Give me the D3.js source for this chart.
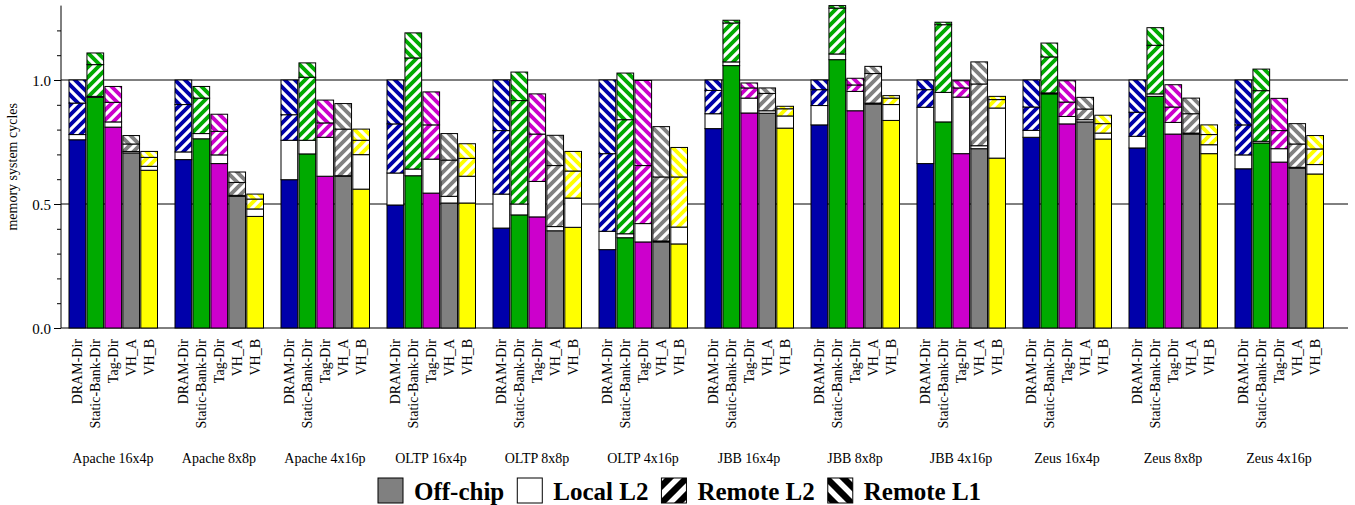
<!DOCTYPE html>
<html>
<head>
<meta charset="utf-8">
<script src="https://cdn.jsdelivr.net/npm/d3@7"></script>
<style>
  body { margin: 0; background: #fff; }
  text { font-family: "Liberation Serif", "Times New Roman", serif; }
</style>
</head>
<body>
<div class="canvas"></div>
<script>
// Data

const groups = ["Apache 16x4p", "Apache 8x8p", "Apache 4x16p", "OLTP 16x4p", "OLTP 8x8p", "OLTP 4x16p",
                "JBB 16x4p", "JBB 8x8p", "JBB 4x16p", "Zeus 16x4p", "Zeus 8x8p", "Zeus 4x16p"];
const protocols = ["DRAM-Dir", "Static-Bank-Dir", "Tag-Dir", "VH_A", "VH_B"];
const components = ["Off-chip", "Local L2", "Remote L2", "Remote L1"];
const protoColors = ["#0000aa", "#00aa00", "#cc00cc", "#808080", "#ffff00"];

// one row per group, one value per protocol
const offChip = [
  [0.759, 0.930, 0.810, 0.706, 0.636],
  [0.679, 0.763, 0.663, 0.531, 0.450],
  [0.598, 0.702, 0.612, 0.612, 0.560],
  [0.496, 0.614, 0.544, 0.504, 0.504],
  [0.403, 0.456, 0.448, 0.392, 0.406],
  [0.316, 0.364, 0.347, 0.347, 0.339],
  [0.804, 1.058, 0.867, 0.866, 0.806],
  [0.819, 1.082, 0.876, 0.903, 0.837],
  [0.663, 0.831, 0.703, 0.723, 0.685],
  [0.769, 0.944, 0.823, 0.831, 0.762],
  [0.726, 0.934, 0.782, 0.782, 0.703],
  [0.642, 0.746, 0.669, 0.645, 0.621]
];
const localL2 = [
  [0.021, 0.004, 0.021, 0.006, 0.016],
  [0.031, 0.021, 0.035, 0.004, 0.030],
  [0.159, 0.055, 0.157, 0.002, 0.139],
  [0.129, 0.027, 0.137, 0.027, 0.108],
  [0.137, 0.044, 0.143, 0.017, 0.118],
  [0.074, 0.016, 0.074, 0.004, 0.068],
  [0.060, 0.015, 0.060, 0.010, 0.049],
  [0.078, 0.023, 0.078, 0.004, 0.064],
  [0.227, 0.119, 0.228, 0.012, 0.202],
  [0.028, 0.004, 0.030, 0.009, 0.024],
  [0.047, 0.010, 0.047, 0.004, 0.036],
  [0.056, 0.007, 0.054, 0.003, 0.038]
];
const remoteL2 = [
  [0.127, 0.128, 0.079, 0.030, 0.036],
  [0.191, 0.143, 0.095, 0.052, 0.040],
  [0.103, 0.254, 0.058, 0.188, 0.058],
  [0.198, 0.448, 0.138, 0.146, 0.072],
  [0.256, 0.417, 0.191, 0.246, 0.109],
  [0.313, 0.460, 0.234, 0.258, 0.202],
  [0.094, 0.157, 0.041, 0.070, 0.029],
  [0.064, 0.185, 0.026, 0.119, 0.026],
  [0.071, 0.273, 0.037, 0.249, 0.034],
  [0.094, 0.145, 0.058, 0.043, 0.038],
  [0.097, 0.196, 0.062, 0.078, 0.041],
  [0.121, 0.204, 0.073, 0.094, 0.063]
];
const remoteL1 = [
  [0.093, 0.047, 0.064, 0.034, 0.024],
  [0.099, 0.047, 0.069, 0.042, 0.020],
  [0.140, 0.058, 0.092, 0.103, 0.045],
  [0.177, 0.101, 0.133, 0.107, 0.059],
  [0.204, 0.115, 0.162, 0.122, 0.079],
  [0.297, 0.188, 0.343, 0.203, 0.119],
  [0.042, 0.011, 0.020, 0.022, 0.010],
  [0.039, 0.010, 0.027, 0.029, 0.010],
  [0.039, 0.010, 0.029, 0.089, 0.013],
  [0.109, 0.056, 0.086, 0.047, 0.034],
  [0.130, 0.071, 0.090, 0.063, 0.039],
  [0.181, 0.087, 0.130, 0.082, 0.054]
];

const yLabelTicks = [0, 0.5, 1.0];
const yGridLines = [0.5, 1.0];

// Layout

const W = 1355, H = 505;
const svg = d3.select(".canvas").append("svg")
    .attr("width", W)
    .attr("height", H);

const y = d3.scaleLinear().domain([0, 1.3]).range([328, 5.6]);
const x0 = d3.scaleBand().domain(groups).range([69, 69 + 106 * groups.length]);
const x1 = d3.scaleBand().domain(protocols).range([0, 88.5]).paddingInner(0.07);

// hatch patterns
const defs = svg.append("defs");
function hatch(id, bg, dir, size, sw) {
  const p = defs.append("pattern")
      .attr("id", id)
      .attr("patternUnits", "userSpaceOnUse")
      .attr("width", size).attr("height", size);
  p.append("rect").attr("width", size).attr("height", size).attr("fill", bg);
  const s = size;
  const d = dir === "/"
    ? `M${-s/4},${s/4} L${s/4},${-s/4} M0,${s} L${s},0 M${3*s/4},${5*s/4} L${5*s/4},${3*s/4}`
    : `M${-s/4},${3*s/4} L${s/4},${5*s/4} M0,0 L${s},${s} M${3*s/4},${-s/4} L${5*s/4},${s/4}`;
  p.append("path").attr("d", d).attr("stroke", "#fff").attr("stroke-width", sw);
}
protoColors.forEach((c, i) => {
  hatch("l2-" + i, c, "/", 10, 3.2);
  hatch("l1-" + i, c, "\\", 10, 3.2);
});
hatch("leg-l2", "#000", "/", 17, 5.5);
hatch("leg-l1", "#000", "\\", 17, 5.5);

// grid lines (behind bars)
svg.append("g").selectAll("line")
  .data([0].concat(yGridLines))
  .join("line")
    .attr("x1", 61).attr("x2", 1348)
    .attr("y1", d => y(d)).attr("y2", d => y(d))
    .attr("stroke", "#000").attr("stroke-width", 1);

// y axis
const yAxis = svg.append("g").attr("transform", "translate(61,0)");
yAxis.call(d3.axisLeft(y).tickValues(d3.range(0, 13).map(i => i / 10)).tickSize(4).tickFormat(""));
yAxis.select(".domain").attr("d", `M0,${y(1.3)}V${y(0)}`);
yAxis.selectAll(".tick")
  .filter(d => yLabelTicks.some(v => Math.abs(v - d) < 1e-9))
  .select("line").attr("x2", -7);
yAxis.selectAll(".tick")
  .filter(d => yLabelTicks.some(v => Math.abs(v - d) < 1e-9))
  .append("text")
    .attr("x", -10).attr("dy", "0.34em")
    .attr("text-anchor", "end")
    .attr("fill", "#000")
    .style("font-size", "15px")
    .style("font-family", "Liberation Serif")
    .text(d => d.toFixed(1));

svg.append("text")
    .attr("transform", `translate(17,${y(0.65)}) rotate(-90)`)
    .attr("text-anchor", "middle")
    .style("font-size", "14px")
    .text("memory system cycles");

// stacked bars
const series = [offChip, localL2, remoteL2, remoteL1];
const bars = [];
groups.forEach((g, gi) => {
  protocols.forEach((p, pi) => {
    let base = 0;
    series.forEach((s, ci) => {
      const v = s[gi][pi];
      bars.push({ g, p, pi, ci, y0: base, y1: base + v });
      base += v;
    });
  });
});

function segFill(d) {
  if (d.ci === 0) return protoColors[d.pi];
  if (d.ci === 1) return "#fff";
  if (d.ci === 2) return `url(#l2-${d.pi})`;
  return `url(#l1-${d.pi})`;
}

svg.append("g").selectAll("rect")
  .data(bars)
  .join("rect")
    .attr("x", d => x0(d.g) + x1(d.p))
    .attr("width", x1.bandwidth())
    .attr("y", d => y(d.y1))
    .attr("height", d => y(d.y0) - y(d.y1))
    .attr("fill", segFill)
    .attr("stroke", "#000")
    .attr("stroke-width", 1);

// bar labels
const labelG = svg.append("g");
groups.forEach(g => {
  protocols.forEach(p => {
    const cx = x0(g) + x1(p) + x1.bandwidth() / 2;
    labelG.append("text")
        .attr("transform", `translate(${cx},339) rotate(-90)`)
        .attr("dy", "0.35em")
        .attr("text-anchor", "end")
        .style("font-size", "14px")
        .text(p);
  });
});

// group labels
svg.append("g").selectAll("text")
  .data(groups)
  .join("text")
    .attr("x", d => x0(d) + 44)
    .attr("y", 463)
    .attr("text-anchor", "middle")
    .style("font-size", "14px")
    .text(d => d);

// legend
const legendFill = ["#808080", "#fff", "url(#leg-l2)", "url(#leg-l1)"];
let lx = 378;
components.forEach((c, i) => {
  svg.append("rect")
      .attr("x", lx).attr("y", 478)
      .attr("width", 25).attr("height", 25)
      .attr("fill", legendFill[i])
      .attr("stroke", "#000").attr("stroke-width", 1);
  const t = svg.append("text")
      .attr("x", lx + 36).attr("y", 500)
      .style("font-size", "25px")
      .style("font-weight", "bold")
      .text(c);
  lx += 36 + t.node().getComputedTextLength() + 13;
});
</script>
</body>
</html>
